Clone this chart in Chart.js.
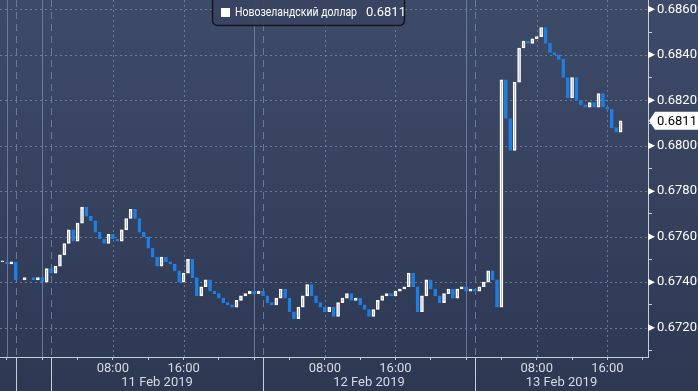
<!DOCTYPE html>
<html>
<head>
<meta charset="utf-8">
<script src="https://cdn.jsdelivr.net/npm/chart.js@4.4.1/dist/chart.umd.min.js"></script>
<style>
  html, body { margin: 0; padding: 0; }
  body { width: 698px; height: 391px; overflow: hidden; background: linear-gradient(#3e4b68, #2d3853); }
  #wrap { position: relative; width: 698px; height: 391px; }
</style>
</head>
<body>
<div id="wrap"><canvas id="chart" width="698" height="391"></canvas></div>
<script>
// series: NZD, 30-minute closes, hours counted from 11 Feb 2019 00:00
const seriesName = 'Новозеландский доллар';
const startHour = -4.5;
const stepHours = 0.5;
const closes = [
  0.6749, 0.6748, 0.6749, 0.6741, null, 0.6742, null, 0.6741,
  0.6742, 0.6740, 0.6746, 0.6744, 0.6747, 0.6752, 0.6757, 0.6763,
  0.6758, 0.6766, 0.6773, 0.6769, 0.6767, 0.6762, 0.6759, 0.6757,
  0.6761, 0.6759, 0.6758, 0.6763, 0.6768, 0.6772, 0.6768, 0.6762,
  0.6760, 0.6755, 0.6751, 0.6747, 0.6751, 0.6749, 0.6748, 0.6745,
  0.6740, 0.6744, 0.6750, 0.6742, 0.6734, 0.6738, 0.6741, 0.6736,
  0.6735, 0.6733, 0.6731, 0.6730, 0.6729, 0.6732, 0.6734, 0.6735,
  0.6736, 0.6735, 0.6736, 0.6734, 0.6731, 0.6730, 0.6733, 0.6737,
  0.6733, 0.6727, 0.6724, 0.6729, 0.6734, 0.6739, 0.6734, 0.6731,
  0.6729, 0.6727, 0.6729, 0.6725, 0.6731, 0.6733, 0.6735, 0.6732,
  0.6733, 0.6730, 0.6728, 0.6725, 0.6728, 0.6732, 0.6734, 0.6735,
  0.6734, 0.6736, 0.6737, 0.6738, 0.6744, 0.6738, 0.6727, 0.6734,
  0.6741, 0.6737, 0.6734, 0.6731, 0.6735, 0.6737, 0.6733, 0.6737,
  0.6738, 0.6736, 0.6737, 0.6736, 0.6738, 0.6740, 0.6745, 0.6741,
  0.6729, 0.6829, 0.6812, 0.6798, 0.6828, 0.6843, 0.6846, 0.6845,
  0.6847, 0.6848, 0.6852, 0.6845, 0.6841, 0.6840, 0.6838, 0.6830,
  0.6821, 0.6830, 0.6820, 0.6818, 0.6817, 0.6819, 0.6817, 0.6823,
  0.6817, 0.6816, 0.6808, 0.6806, 0.6811
];

// axes
const xMin = -4.79, xMax = 68.6;
const yMin = 0.67071, yMax = 0.68641;
const timeLabels = { 8: '08:00', 16: '16:00' };
const dayLabels = ['11 Feb 2019', '12 Feb 2019', '13 Feb 2019'];
const dayStarts = [1, 25, 49];
const sessionBreaks = [-3, 1, 25, 49];
const midnightLines = [-4, 0, 24, 48];

const upColor = '#ffffff';
const downColor = '#1f7fe3';
const gridColor = 'rgba(120,140,170,0.75)';
const axisColor = '#c6cedb';
const font = 'Roboto, "DejaVu Sans", sans-serif';

// bodies: previous close -> close
const bodies = [];
let prev = null;
closes.forEach((c, i) => {
  if (c === null) return;
  bodies.push({ x: startHour + i * stepHours, y: [prev === null ? c : prev, c] });
  prev = c;
});
const lastPrice = prev;

const isDown = ctx => ctx.raw && ctx.raw.y[1] < ctx.raw.y[0];
const hourOfDay = v => ((v % 24) + 24) % 24;

const decorations = {
  id: 'decorations',
  beforeDatasetsDraw(chart) {
    const { ctx, chartArea: a, scales: { x, y } } = chart;
    ctx.save();
    ctx.lineWidth = 1;
    // dotted grid
    ctx.strokeStyle = gridColor;
    ctx.setLineDash([2, 3]);
    y.ticks.forEach(t => {
      if (Math.round(t.value * 1e4) % 20 !== 0) return;
      const py = Math.round(y.getPixelForValue(t.value)) + 0.5;
      ctx.beginPath(); ctx.moveTo(a.left, py); ctx.lineTo(a.right, py); ctx.stroke();
    });
    x.ticks.forEach(t => {
      if (!timeLabels[hourOfDay(t.value)]) return;
      const px = Math.round(x.getPixelForValue(t.value)) + 0.5;
      ctx.beginPath(); ctx.moveTo(px, a.top); ctx.lineTo(px, a.bottom); ctx.stroke();
    });
    // midnight lines
    ctx.setLineDash([]);
    ctx.strokeStyle = 'rgba(110,132,165,0.85)';
    midnightLines.forEach(h => {
      const px = Math.round(x.getPixelForValue(h)) + 0.5;
      ctx.beginPath(); ctx.moveTo(px, a.top); ctx.lineTo(px, a.bottom); ctx.stroke();
    });
    // session breaks
    ctx.setLineDash([7, 5]);
    sessionBreaks.forEach(h => {
      const px = Math.round(x.getPixelForValue(h)) + 0.5;
      ctx.beginPath(); ctx.moveTo(px, a.top); ctx.lineTo(px, a.bottom); ctx.stroke();
    });
    ctx.restore();
  },
  afterDraw(chart) {
    const { ctx, chartArea: a, scales: { x, y } } = chart;
    ctx.save();
    // separators under the time axis
    ctx.strokeStyle = axisColor;
    ctx.lineWidth = 1;
    sessionBreaks.forEach(h => {
      const px = Math.round(x.getPixelForValue(h)) + 0.5;
      ctx.beginPath(); ctx.moveTo(px, a.bottom); ctx.lineTo(px, chart.height); ctx.stroke();
    });
    // date labels
    ctx.fillStyle = '#d5dae3';
    ctx.font = '13px ' + font;
    ctx.textAlign = 'center';
    ctx.textBaseline = 'middle';
    dayLabels.forEach((d, i) => {
      const from = x.getPixelForValue(dayStarts[i]);
      const to = i + 1 < dayStarts.length ? x.getPixelForValue(dayStarts[i + 1]) : a.right;
      ctx.fillText(d, (from + to) / 2, a.bottom + 26);
    });
    // arrows on major price ticks
    ctx.fillStyle = '#ffffff';
    y.ticks.forEach(t => {
      if (Math.round(t.value * 1e4) % 20 !== 0) return;
      const py = y.getPixelForValue(t.value);
      ctx.beginPath();
      ctx.moveTo(a.right, py - 3.5); ctx.lineTo(a.right + 7, py); ctx.lineTo(a.right, py + 3.5);
      ctx.closePath(); ctx.fill();
    });
    // last price tag
    const ly = y.getPixelForValue(lastPrice);
    ctx.beginPath();
    ctx.moveTo(a.right + 1, ly);
    ctx.lineTo(a.right + 7, ly - 9);
    ctx.lineTo(chart.width, ly - 9);
    ctx.lineTo(chart.width, ly + 9);
    ctx.lineTo(a.right + 7, ly + 9);
    ctx.closePath();
    ctx.fill();
    ctx.fillStyle = '#000000';
    ctx.textAlign = 'left';
    ctx.fillText(lastPrice.toFixed(4), a.right + 9, ly + 1);
    // legend
    ctx.fillStyle = 'rgba(55,68,96,0.9)';
    ctx.strokeStyle = '#14171d';
    ctx.lineWidth = 1.5;
    ctx.beginPath();
    ctx.roundRect(212.5, -8, 192, 33.5, 5);
    ctx.fill(); ctx.stroke();
    ctx.fillStyle = '#ffffff';
    ctx.fillRect(221, 8, 9, 9);
    ctx.font = '13px ' + font;
    ctx.fillText(seriesName, 235, 13, 122);
    ctx.fillText(lastPrice.toFixed(4), 366, 13);
    ctx.restore();
  }
};

new Chart(document.getElementById('chart'), {
  type: 'bar',
  data: {
    datasets: [{
      label: seriesName,
      data: bodies,
      barThickness: 3,
      minBarLength: 1,
      borderWidth: 1,
      borderSkipped: false,
      backgroundColor: ctx => isDown(ctx) ? downColor : 'rgba(0,0,0,0)',
      borderColor: ctx => isDown(ctx) ? downColor : upColor
    }]
  },
  options: {
    responsive: false,
    animation: false,
    devicePixelRatio: 1,
    layout: { padding: 0 },
    plugins: { legend: { display: false }, tooltip: { enabled: false } },
    scales: {
      x: {
        type: 'linear',
        offset: false,
        min: xMin,
        max: xMax,
        afterFit: s => { s.height = 34; s.paddingLeft = 0; s.paddingRight = 0; },
        grid: { offset: false, drawOnChartArea: false, tickLength: 3, tickColor: axisColor },
        border: { color: axisColor },
        ticks: {
          stepSize: 4,
          includeBounds: false,
          autoSkip: false,
          maxRotation: 0,
          padding: 1,
          color: '#d5dae3',
          font: { family: font, size: 13 },
          callback: v => timeLabels[hourOfDay(v)] || ''
        }
      },
      y: {
        position: 'right',
        min: yMin,
        max: yMax,
        afterFit: s => { s.width = 50; s.paddingTop = 0; s.paddingBottom = 0; },
        grid: { drawOnChartArea: false, tickLength: 4, tickColor: axisColor },
        border: { color: axisColor },
        ticks: {
          stepSize: 0.001,
          includeBounds: false,
          padding: 5,
          color: '#ffffff',
          font: { family: font, size: 13 },
          callback: v => Math.round(v * 1e4) % 20 === 0 ? v.toFixed(4) : ''
        }
      }
    }
  },
  plugins: [decorations]
});
</script>
</body>
</html>
